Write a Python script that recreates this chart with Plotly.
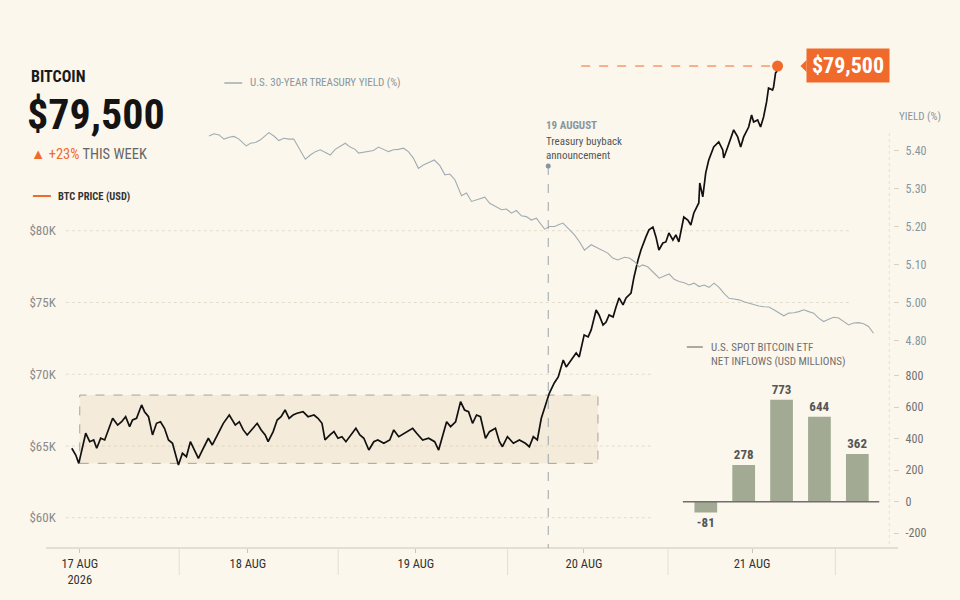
import plotly.graph_objects as go

# BTC price, hours since 17 Aug 2026 00:00 and USD thousands
price_hours = [
    -1.14, -0.57, -0.14, 0.28, 0.85, 1.42, 1.99, 2.42, 2.99, 3.56, 4.13, 4.70, 5.41, 5.98,
    6.55, 7.12, 7.54, 8.11, 8.83, 9.25, 9.82, 10.39, 10.96, 11.53, 12.10, 12.67, 13.24,
    13.67, 14.09, 14.66, 15.23, 15.80, 16.37, 16.94, 17.51, 18.36, 18.93, 19.79, 20.50,
    21.35, 22.21, 22.78, 23.35, 23.91, 24.48, 25.34, 25.91, 26.48, 26.90, 27.62, 28.19,
    28.75, 29.32, 29.89, 30.46, 31.03, 31.89, 32.60, 33.45, 34.02, 34.59, 35.02, 35.73,
    36.30, 36.87, 37.44, 38.01, 38.58, 39.43, 40.00, 40.57, 41.28, 41.99, 42.56, 43.42,
    44.27, 44.84, 45.55, 46.41, 47.54, 48.11, 48.97, 49.82, 50.68, 51.25, 51.82, 52.39,
    52.95, 53.67, 54.38, 54.95, 55.52, 56.09, 56.66, 57.22, 57.94, 58.51, 59.36, 59.93,
    60.36, 61.07, 61.92, 62.78, 63.63, 64.20, 64.77, 65.34, 65.91, 66.48, 67.05, 67.76,
    68.33, 69.04, 69.47, 70.18, 70.89, 71.32, 72.03, 72.60, 73.03, 73.74, 74.16, 74.73,
    75.16, 75.59, 76.16, 76.58, 77.01, 77.58, 78.01, 78.72, 79.15, 79.72, 80.14, 80.85,
    81.28, 81.85, 82.28, 82.70, 83.27, 83.70, 84.13, 84.70, 85.13, 85.55, 86.26, 86.83,
    87.26, 87.69, 88.40, 88.54, 88.97, 89.39, 89.82, 90.53, 91.25, 91.82, 91.96, 92.53,
    92.95, 93.38, 93.95, 94.38, 94.81, 95.52, 95.94, 96.23, 96.80, 97.22, 97.65, 98.08,
    98.36, 98.93, 99.08, 99.36, 99.50, 99.65,
]
price_k = [
    64.84, 64.37, 63.79, 64.60, 65.89, 65.30, 65.42, 64.84, 65.54, 65.42, 66.12, 66.93, 66.46, 66.69,
    67.04, 66.35, 66.81, 66.93, 67.86, 67.39, 67.04, 65.77, 66.58, 66.69, 66.23, 65.42, 65.19,
    64.37, 63.68, 64.49, 64.25, 65.30, 64.72, 64.14, 64.72, 65.54, 65.07, 65.89, 66.58,
    67.16, 66.46, 66.69, 66.12, 65.77, 66.12, 66.58, 66.12, 65.77, 65.30, 66.00, 66.81,
    67.04, 67.51, 66.93, 67.16, 67.28, 67.39, 67.04, 67.16, 66.93, 66.58, 65.42, 65.77,
    66.00, 65.54, 65.65, 65.30, 65.65, 66.23, 65.77, 65.54, 64.72, 65.30, 65.42, 65.19,
    65.42, 66.12, 65.65, 65.89, 66.23, 65.89, 65.42, 65.54, 65.30, 64.72, 65.65, 66.69,
    66.35, 66.69, 68.09, 67.51, 67.39, 66.58, 67.16, 67.04, 65.54, 66.00, 66.23, 65.30,
    64.95, 65.65, 65.19, 65.42, 65.19, 64.95, 65.65, 65.42, 66.93, 67.74, 68.67, 69.39,
    69.81, 70.99, 70.51, 70.99, 71.48, 71.20, 72.74, 72.60, 73.09, 74.48, 74.13, 73.43,
    73.64, 74.13, 73.99, 74.69, 75.32, 74.83, 75.32, 75.66, 76.78, 77.96, 78.66, 79.57,
    80.06, 80.26, 79.57, 78.66, 79.15, 79.22, 79.85, 79.36, 79.71, 79.22, 80.96, 80.75,
    80.40, 81.24, 81.94, 83.33, 82.36, 84.03, 84.93, 85.84, 86.19, 85.63, 85.07, 85.84,
    86.47, 87.03, 86.54, 85.84, 86.54, 87.23, 88.07, 87.58, 87.72, 87.23, 87.93, 88.98,
    89.95, 89.81, 90.02, 91.00, 91.07, 91.48,
]

# U.S. 30-year Treasury yield (%)
yield_hours = [
    18.46, 19.17, 19.89, 20.60, 21.31, 22.02, 22.73, 23.20, 23.77, 24.38, 25.10, 25.81,
    26.52, 27.00, 27.72, 28.43, 29.14, 29.85, 30.56, 31.27, 32.21, 32.93, 33.64, 34.35,
    35.06, 35.77, 36.48, 37.20, 37.91, 38.62, 39.33, 39.81, 40.53, 41.24, 41.95, 42.66,
    43.37, 44.09, 44.80, 45.51, 46.22, 46.93, 47.64, 48.36, 49.07, 49.78, 50.63, 51.43,
    52.14, 52.85, 53.57, 54.52, 55.23, 55.94, 56.90, 57.84, 58.55, 59.50, 60.22, 60.93,
    61.64, 62.35, 63.06, 63.77, 64.49, 65.20, 66.38, 67.09, 67.80, 68.29, 69.00, 69.71,
    70.65, 71.36, 72.07, 73.03, 73.98, 75.40, 76.11, 76.83, 77.77, 78.48, 79.19, 79.90,
    80.38, 81.10, 82.04, 82.75, 83.46, 84.17, 84.88, 85.60, 86.31, 87.02, 87.73, 88.44,
    89.15, 89.87, 90.58, 91.29, 92.00, 92.71, 93.42, 94.14, 94.85, 95.56, 96.27, 96.98,
    97.69, 98.41, 99.12, 99.83, 100.54, 101.25, 101.96, 102.68, 103.39, 104.10, 104.81,
    105.52, 106.23, 106.95, 107.66, 108.37, 109.08, 109.79, 110.50, 111.22, 111.93,
    112.64, 113.35,
]
yield_pct = [
    5.439, 5.445, 5.442, 5.431, 5.436, 5.438, 5.431, 5.424, 5.413, 5.420, 5.422, 5.429,
    5.439, 5.448, 5.439, 5.427, 5.433, 5.431, 5.431, 5.407, 5.378, 5.389, 5.398, 5.403,
    5.396, 5.389, 5.404, 5.413, 5.420, 5.410, 5.404, 5.394, 5.396, 5.398, 5.401, 5.410,
    5.404, 5.398, 5.403, 5.404, 5.407, 5.398, 5.381, 5.354, 5.363, 5.368, 5.376, 5.361,
    5.337, 5.339, 5.324, 5.282, 5.289, 5.267, 5.273, 5.278, 5.262, 5.253, 5.245, 5.247,
    5.236, 5.243, 5.229, 5.227, 5.218, 5.223, 5.194, 5.201, 5.201, 5.205, 5.210, 5.197,
    5.179, 5.161, 5.139, 5.153, 5.144, 5.131, 5.118, 5.113, 5.120, 5.118, 5.109, 5.095,
    5.100, 5.095, 5.078, 5.065, 5.071, 5.076, 5.062, 5.056, 5.053, 5.047, 5.052, 5.043,
    5.047, 5.041, 5.052, 5.041, 5.025, 5.012, 5.010, 5.008, 5.003, 4.999, 4.995, 4.992,
    4.990, 4.989, 4.982, 4.973, 4.966, 4.973, 4.974, 4.977, 4.982, 4.977, 4.973,
    4.960, 4.951, 4.957, 4.962, 4.960, 4.951, 4.942, 4.947, 4.948, 4.945,
    4.938, 4.920,
]

# ETF net inflows (USD millions)
etf_days = ["17 AUG", "18 AUG", "19 AUG", "20 AUG", "21 AUG"]
etf_flows = [-81, 278, 773, 644, 362]

day_ticks = [0, 24, 48, 72, 96]
day_labels = ["17 AUG<br>2026", "18 AUG", "19 AUG", "20 AUG", "21 AUG"]
minor_ticks = [14.2, 36.9, 61.1, 84.0, 107.9]

price_ticks = [60, 65, 70, 75, 80]
price_tick_text = ["$60K", "$65K", "$70K", "$75K", "$80K"]
yield_ticks = [4.9, 5.0, 5.1, 5.2, 5.3, 5.4]
yield_tick_text = ["4.80", "5.00", "5.10", "5.20", "5.30", "5.40"]
etf_ticks = [-200, 0, 200, 400, 600, 800]

event_hour = 66.9
range_start, range_end = 0.0, 74.0
range_low, range_high = 63.79, 68.55
headline = "$79,500"

FONT = "Roboto Condensed, Roboto, sans-serif"
BG = "#fcf7ec"
ORANGE = "#ef6a2b"
YIELD_C = "#a0acb1"
YIELD_TXT = "#8696a0"
BAR_C = "#a2aa94"


def px(x):
    return x / 960


def py(y):
    return 1 - y / 600


def narrow(s):
    return f"<span style='font-stretch:75%'>{s}</span>"


fig = go.Figure()

fig.add_trace(go.Scatter(
    x=yield_hours, y=yield_pct, yaxis="y2", mode="lines",
    line=dict(color=YIELD_C, width=1.1), hoverinfo="skip"))

fig.add_trace(go.Scatter(
    x=price_hours, y=price_k, mode="lines",
    line=dict(color="#111111", width=1.7), hoverinfo="skip"))

fig.add_trace(go.Scatter(
    x=[price_hours[-1]], y=[price_k[-1]], mode="markers",
    marker=dict(color=ORANGE, size=11), hoverinfo="skip"))

fig.add_trace(go.Bar(
    x=etf_days, y=etf_flows, xaxis="x3", yaxis="y3",
    marker=dict(color=BAR_C, line=dict(width=0)),
    text=[narrow(f"<b>{v}</b>") for v in etf_flows], textposition="outside",
    textfont=dict(family=FONT, size=13, color="#555555"),
    cliponaxis=False, hoverinfo="skip"))

# carrier for the ETF tick axis
fig.add_trace(go.Scatter(x=[None], y=[None], yaxis="y4", hoverinfo="skip"))

shapes = []
# range box
shapes.append(dict(type="rect", xref="x", yref="y", x0=range_start, x1=range_end,
                   y0=range_low, y1=range_high, fillcolor="rgba(222,206,172,0.28)",
                   line=dict(color="#aaa293", width=1, dash="dash"), layer="below"))
# gridlines
for t in price_ticks:
    x1 = 850 if t >= 75 else 650
    shapes.append(dict(type="line", xref="paper", yref="y", x0=px(63), x1=px(x1),
                       y0=t, y1=t, line=dict(color="#e3dccd", width=1, dash="dot"),
                       layer="below"))
# baseline and minor ticks
shapes.append(dict(type="line", xref="paper", yref="paper", x0=px(43), x1=px(898),
                   y0=py(548), y1=py(548), line=dict(color="#cbc5b8", width=1)))
for t in minor_ticks:
    shapes.append(dict(type="line", xref="x", yref="paper", x0=t, x1=t,
                       y0=py(548), y1=py(575), line=dict(color="#e4ded2", width=1)))
# right axis guide
shapes.append(dict(type="line", xref="paper", yref="paper", x0=px(889), x1=px(889),
                   y0=py(133), y1=py(548), line=dict(color="#e6e0d3", width=1, dash="dot")))
# event line
shapes.append(dict(type="line", xref="x", yref="paper", x0=event_hour, x1=event_hour,
                   y0=py(166), y1=py(548), line=dict(color="#9aa4aa", width=1, dash="dash")))
shapes.append(dict(type="circle", xref="x", yref="paper", xsizemode="pixel",
                   ysizemode="pixel", xanchor=event_hour, yanchor=py(166),
                   x0=-2.5, x1=2.5, y0=-2.5, y1=2.5, fillcolor="#8696a0",
                   line=dict(width=0)))
# dashed leader from the last price
shapes.append(dict(type="line", xref="x", yref="y", x0=71.6, x1=price_hours[-1],
                   y0=price_k[-1], y1=price_k[-1],
                   line=dict(color=ORANGE, width=1, dash="dash")))
# price tag pointer
shapes.append(dict(type="path", xref="paper", yref="paper",
                   path=f"M {px(800)},{py(66)} L {px(806)},{py(60)} L {px(806)},{py(72)} Z",
                   fillcolor=ORANGE, line=dict(width=0)))
# ETF zero line
shapes.append(dict(type="line", xref="paper", yref="y3", x0=px(682), x1=px(879),
                   y0=0, y1=0, line=dict(color="#6f6f6f", width=1.5)))
# legend keys
shapes.append(dict(type="line", xref="paper", yref="paper", x0=px(30), x1=px(48),
                   y0=py(196), y1=py(196), line=dict(color=ORANGE, width=2)))
shapes.append(dict(type="line", xref="paper", yref="paper", x0=px(222), x1=px(240),
                   y0=py(83), y1=py(83), line=dict(color=YIELD_C, width=1.5)))
shapes.append(dict(type="line", xref="paper", yref="paper", x0=px(686), x1=px(702),
                   y0=py(347), y1=py(347), line=dict(color="#8c9284", width=1.5)))


def note(text, x, y, size, color, xanchor="left", yanchor="middle", **kw):
    return dict(text=narrow(text), x=px(x), y=py(y), xref="paper", yref="paper",
                xanchor=xanchor, yanchor=yanchor, showarrow=False, align="left",
                font=dict(family=FONT, size=size, color=color), **kw)


annotations = [
    note("<b>BITCOIN</b>", 26, 76, 16, "#1a1a1a"),
    note(f"<b>{headline}</b>", 22, 115, 42, "#141414"),
    note(f"<span style='color:{ORANGE}'>▲ +23%</span> THIS WEEK", 26, 155, 14.5, "#666666"),
    note("<b>BTC PRICE (USD)</b>", 53, 196, 10.5, "#333333"),
    note("U.S. 30-YEAR TREASURY YIELD (%)", 246, 83, 11, YIELD_TXT),
    note("U.S. SPOT BITCOIN ETF<br>NET INFLOWS (USD MILLIONS)", 708, 354, 11, "#707070"),
    note("YIELD (%)", 897, 116, 11, YIELD_TXT),
    note("<b>19 AUGUST</b>", 543, 126, 11, YIELD_TXT),
    note("Treasury buyback<br>announcement", 543, 148, 11, "#555555"),
    dict(note(f"<b>{headline}</b>", 806, 66, 22, "#ffffff", bgcolor=ORANGE, borderpad=4),
         width=74, align="center"),
]

axis_font = dict(family=FONT, size=12)
fig.update_layout(
    width=960, height=600, margin=dict(l=0, r=0, t=0, b=0),
    paper_bgcolor=BG, plot_bgcolor="rgba(0,0,0,0)", showlegend=False,
    shapes=shapes, annotations=annotations,
    xaxis=dict(domain=[px(62), 1], range=[-2.135, 125.70], showgrid=False,
               zeroline=False, showline=False, tickvals=day_ticks,
               ticktext=[narrow(t) for t in day_labels],
               ticks="outside", ticklen=4, tickcolor="#cbc5b8",
               tickfont=dict(axis_font, size=12.5, color="#333333")),
    yaxis=dict(domain=[52 / 600, 1], range=[57.891, 96.082], showgrid=False,
               zeroline=False, showline=False, tickvals=price_ticks,
               ticktext=[narrow(t) for t in price_tick_text], ticklabelstandoff=8,
               tickfont=dict(axis_font, size=13, color="#8a8a8a")),
    yaxis2=dict(overlaying="y", anchor="free", position=px(893), side="right",
                range=[4.355, 5.797], showgrid=False, zeroline=False, showline=False,
                tickvals=yield_ticks, ticktext=[narrow(t) for t in yield_tick_text],
                ticks="outside", ticklen=5, tickcolor="#d8d1c2", ticklabelstandoff=4,
                tickfont=dict(axis_font, color=YIELD_TXT)),
    yaxis4=dict(overlaying="y", anchor="free", position=px(893), side="right",
                range=[-294, 3185.4], showgrid=False, zeroline=False, showline=False,
                tickvals=etf_ticks, ticktext=[narrow(str(t)) for t in etf_ticks],
                ticks="outside", ticklen=5, tickcolor="#d8d1c2", ticklabelstandoff=4,
                tickfont=dict(axis_font, color="#707070")),
    xaxis3=dict(domain=[px(686), px(876)], anchor="y3", visible=False),
    yaxis3=dict(domain=[52 / 600, 1], anchor="x3", range=[-350.8, 3800.8], visible=False),
    bargap=0.4,
)

fig.write_html("out.html", config={"displayModeBar": False},
               post_script="document.body.style.margin='0';"
                           "document.body.style.overflow='hidden';")
